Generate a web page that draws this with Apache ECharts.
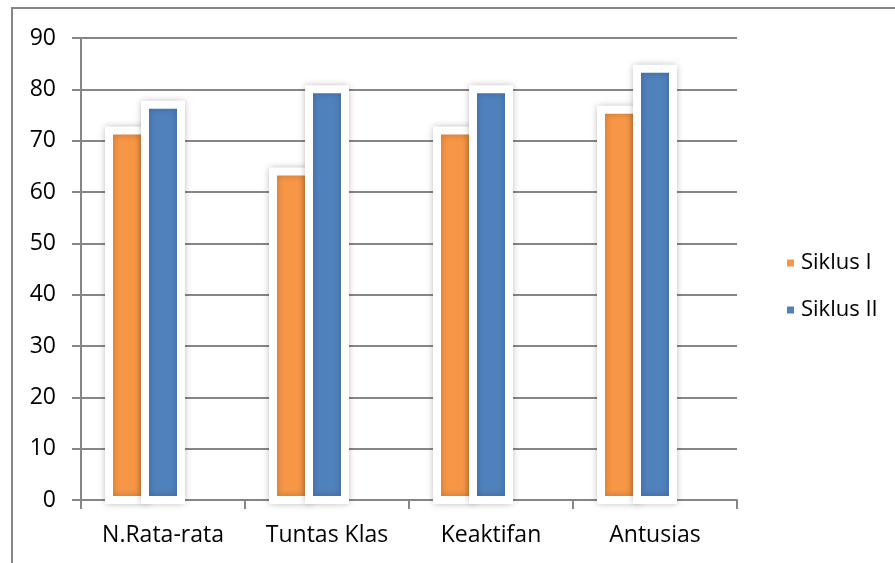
<!DOCTYPE html>
<html>
<head>
<meta charset="utf-8">
<script src="https://cdn.jsdelivr.net/npm/echarts@6/dist/echarts.min.js"></script>
<style>
html,body{margin:0;padding:0;background:#fff;}
#chart{width:895px;height:563px;}
</style>
</head>
<body>
<div id="chart"></div>
<script>
var categories = ['N.Rata-rata', 'Tuntas Klas', 'Keaktifan', 'Antusias'];
var siklusI = [72, 64, 72, 76];
var siklusII = [77, 80, 80, 84];
var yTicks = [0, 10, 20, 30, 40, 50, 60, 70, 80, 90];

var FONT = 'Open Sans';
var chart = echarts.init(document.getElementById('chart'));

// Excel-style column: outline stroked on the shape edge (half in, half out)
function columnSeries(name, data, color, offset) {
  return {
    name: name,
    type: 'custom',
    itemStyle: { color: color },
    data: data.map(function (v, i) { return [i, v]; }),
    encode: { x: 0, y: 1 },
    renderItem: function (params, api) {
      var top = api.coord([api.value(0), api.value(1)]);
      var base = api.coord([api.value(0), 0]);
      var w = 36;
      return {
        type: 'rect',
        shape: { x: top[0] + offset - w / 2, y: top[1], width: w, height: base[1] - top[1] },
        style: {
          fill: color,
          stroke: '#ffffff',
          lineWidth: 8,
          shadowBlur: 7,
          shadowColor: 'rgba(0,0,0,0.22)'
        }
      };
    }
  };
}

chart.setOption({
  animation: false,
  backgroundColor: '#ffffff',
  graphic: [{
    type: 'rect',
    silent: true,
    shape: { x: 12, y: 8, width: 1000, height: 700 },
    style: { fill: 'none', stroke: '#868686', lineWidth: 2 }
  }],
  grid: { left: 81, right: 158, top: 38, bottom: 63, containLabel: false },
  legend: {
    data: ['Siklus I', 'Siklus II'],
    orient: 'vertical',
    left: 787,
    top: 251,
    padding: 0,
    icon: 'rect',
    itemWidth: 7,
    itemHeight: 7,
    itemGap: 23,
    textStyle: { fontFamily: FONT, fontSize: 22, color: '#000', lineHeight: 24, padding: [0, 0, 0, 2] }
  },
  xAxis: {
    type: 'category',
    data: categories,
    boundaryGap: true,
    axisLine: { lineStyle: { color: '#868686', width: 2 } },
    axisTick: { show: true, length: 9, alignWithLabel: false, lineStyle: { color: '#868686', width: 2 } },
    axisLabel: { fontFamily: FONT, fontSize: 23, color: '#000', margin: 24 },
    splitLine: { show: false }
  },
  yAxis: {
    type: 'value',
    min: 0,
    max: 90,
    interval: 10,
    axisLine: { show: true, lineStyle: { color: '#868686', width: 2 } },
    axisTick: { show: true, length: 9, lineStyle: { color: '#868686', width: 2 } },
    axisLabel: {
      fontFamily: FONT, fontSize: 23, color: '#000', margin: 25,
      formatter: function (v) { return yTicks.indexOf(v) >= 0 ? String(v) : ''; }
    },
    splitLine: { show: true, lineStyle: { color: '#868686', width: 2 } }
  },
  series: [
    columnSeries('Siklus I', siklusI, '#F79646', -36),
    columnSeries('Siklus II', siklusII, '#4F81BD', 0)
  ]
});
</script>
</body>
</html>
